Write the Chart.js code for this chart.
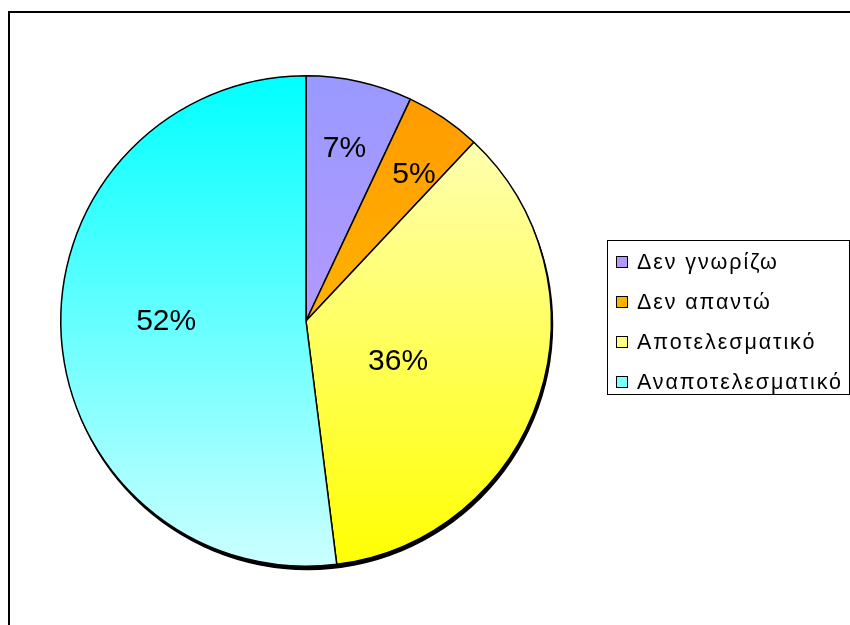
<!DOCTYPE html>
<html>
<head>
<meta charset="utf-8">
<script src="https://cdn.jsdelivr.net/npm/chart.js@4/dist/chart.umd.min.js"></script>
<style>
  html, body { margin: 0; padding: 0; background: #fff; }
  #wrap { position: relative; width: 850px; height: 625px; }
</style>
</head>
<body>
<div id="wrap"><canvas id="pieChart" width="850" height="625"></canvas></div>
<script>
const labels = ["Δεν γνωρίζω", "Δεν απαντώ", "Αποτελεσματικό", "Αναποτελεσματικό"];
const values = [7, 5, 36, 52];
// gradient colours for each slice: top -> bottom
const topColors = ["#9999ff", "#ff9900", "#ffffcc", "#00ffff"];
const bottomColors = ["#cc99ff", "#ffcc00", "#ffff00", "#ccffff"];
// legend marker colours
const legendColors = ["#b399ff", "#ffb300", "#ffff80", "#80ffff"];

const gradientFill = (context) => {
  const chart = context.chart;
  const area = chart.chartArea;
  if (!area) return topColors[context.dataIndex];
  const g = chart.ctx.createLinearGradient(0, area.top, 0, area.bottom);
  g.addColorStop(0, topColors[context.dataIndex]);
  g.addColorStop(1, bottomColors[context.dataIndex]);
  return g;
};

// frame, shadow, labels, legend
const excelLook = {
  id: "excelLook",
  beforeDatasetsDraw(chart) {
    const ctx = chart.ctx;
    const arc = chart.getDatasetMeta(0).data[0];
    ctx.save();
    // outer frame
    ctx.strokeStyle = "#000";
    ctx.lineWidth = 2;
    ctx.strokeRect(9, 12, 860, 640);
    // shadow under the pie
    ctx.fillStyle = "#000";
    ctx.beginPath();
    ctx.arc(arc.x + 1.5, arc.y + 3.5, arc.outerRadius + 0.5, 0, Math.PI * 2);
    ctx.fill();
    ctx.restore();
  },
  afterDatasetsDraw(chart, args, opts) {
    const ctx = chart.ctx;
    const meta = chart.getDatasetMeta(0);
    const total = values.reduce((a, b) => a + b, 0);
    ctx.save();
    ctx.fillStyle = "#000";
    ctx.font = "30px 'Liberation Sans', Arial, sans-serif";
    ctx.textAlign = "center";
    ctx.textBaseline = "middle";
    meta.data.forEach((a, i) => {
      const mid = (a.startAngle + a.endAngle) / 2 + opts.angleShift[i];
      const r = a.outerRadius * opts.labelRadius[i];
      const pct = Math.round(values[i] / total * 100) + "%";
      ctx.fillText(pct, a.x + Math.cos(mid) * r, a.y + Math.sin(mid) * r);
    });

    // legend box
    const lx = 607, ly = 240, lw = 242, lh = 154;
    ctx.fillStyle = "#fff";
    ctx.fillRect(lx, ly, lw, lh);
    ctx.strokeStyle = "#000";
    ctx.lineWidth = 1;
    ctx.strokeRect(lx + 0.5, ly + 0.5, lw, lh);
    ctx.font = "21.5px 'Liberation Sans', Arial, sans-serif";
    ctx.letterSpacing = "1.9px";
    ctx.textAlign = "left";
    labels.forEach((lab, i) => {
      const y = 262 + i * 40;
      ctx.fillStyle = legendColors[i];
      ctx.fillRect(617, y - 5, 10, 10);
      ctx.strokeStyle = "#000";
      ctx.strokeRect(616.5, y - 5.5, 11, 11);
      ctx.fillStyle = "#000";
      ctx.fillText(lab, 637, y + 1);
    });
    ctx.restore();
  }
};

const ctx = document.getElementById("pieChart").getContext("2d");
const myChart = new Chart(ctx, {
  type: "pie",
  data: {
    labels: labels,
    datasets: [
      {
        data: values,
        backgroundColor: gradientFill,
        borderColor: "#000",
        borderWidth: 1.5,
      },
    ],
  },
  options: {
    responsive: false,
    animation: false,
    layout: { padding: { left: 60, top: 75, right: 298, bottom: 58 } },
    plugins: {
      legend: { display: false },
      tooltip: { enabled: false },
      excelLook: {
        labelRadius: [0.72, 0.74, 0.41, 0.57],
        angleShift: [0, 0.04, 0.1, 0.06],
      },
    },
  },
  plugins: [excelLook],
});
</script>
</body>
</html>
